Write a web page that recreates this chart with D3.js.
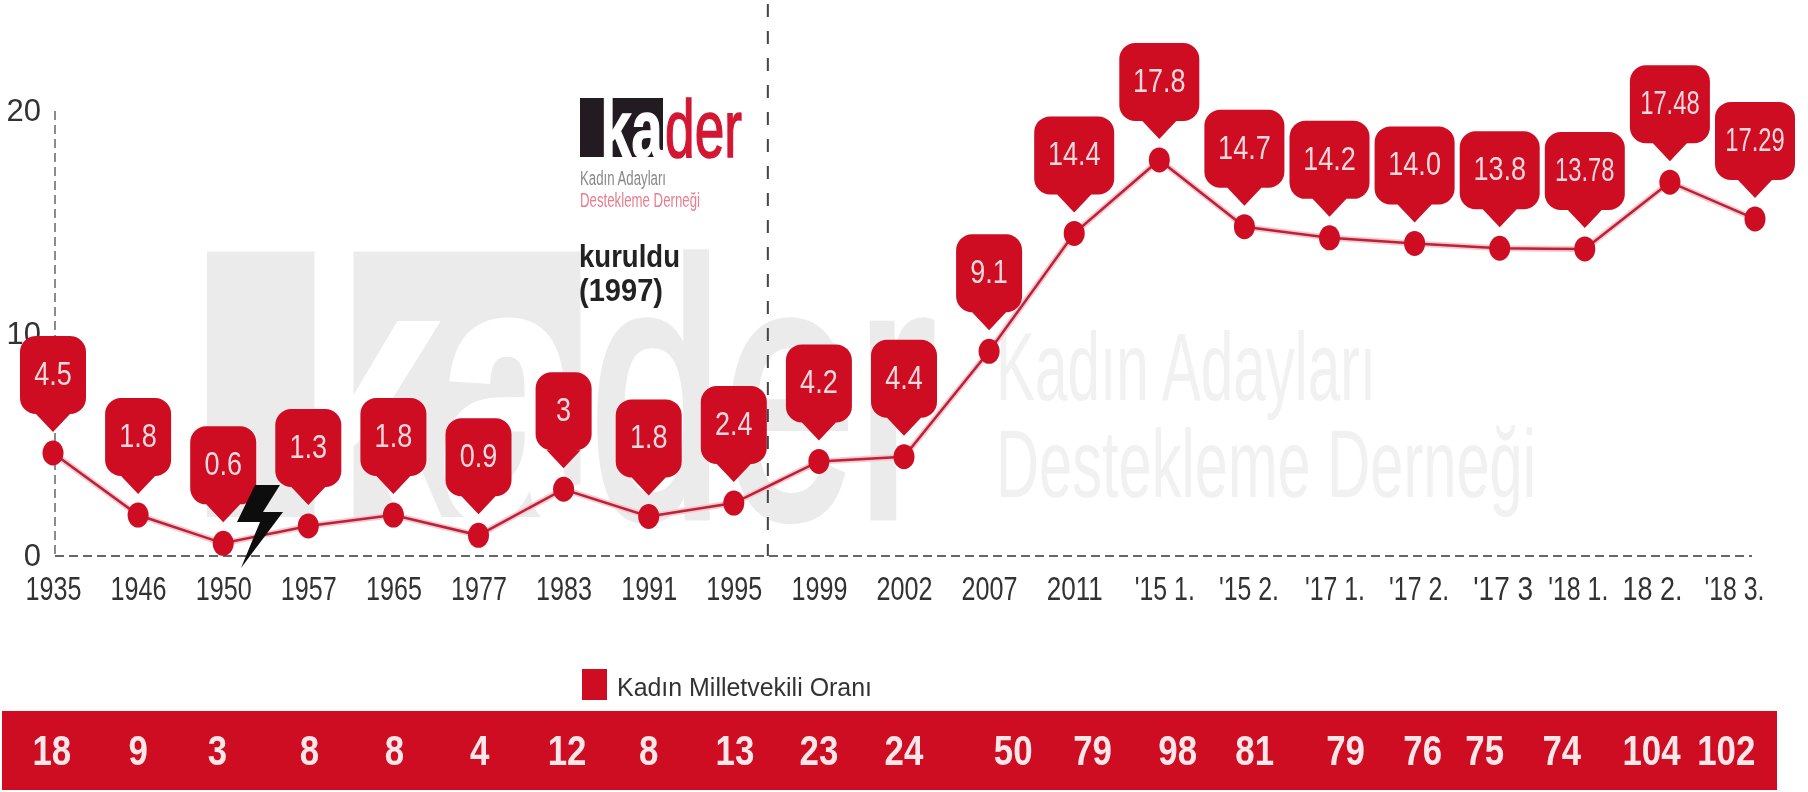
<!DOCTYPE html>
<html lang="tr">
<head>
<meta charset="utf-8">
<script src="https://cdnjs.cloudflare.com/ajax/libs/d3/7.8.5/d3.min.js"></script>
<style>
    html, body { margin: 0; background: #fff; }
    svg { display: block; }
    text { font-family: "Liberation Sans", sans-serif; }
</style>
</head>
<body>
<div id="chart"></div>
<script>
var periods = ["1935", "1946", "1950", "1957", "1965", "1977", "1983", "1991", "1995", "1999", "2002", "2007", "2011",
    "'15 1.", "'15 2.", "'17 1.", "'17 2.", "'17 3", "'18 1.", "18 2.", "'18 3."];
// printed percentages
var shareLabels = ["4.5", "1.8", "0.6", "1.3", "1.8", "0.9", "3", "1.8", "2.4", "4.2", "4.4", "9.1", "14.4",
    "17.8", "14.7", "14.2", "14.0", "13.8", "13.78", "17.48", "17.29"];
// heights as plotted (the last two sit lower than their printed labels)
var plotted = [4.63, 1.84, 0.57, 1.35, 1.84, 0.93, 3.0, 1.78, 2.38, 4.25, 4.46, 9.2, 14.5,
    17.8, 14.8, 14.3, 14.05, 13.83, 13.8, 16.8, 15.15];
var seats = [18, 9, 3, 8, 8, 4, 12, 8, 13, 23, 24, 50, 79, 98, 81, 79, 76, 75, 74, 104, 102];
var yTicks = [0, 10, 20];

// the hand-placed labels in the original do not sit on the points
var tickNudge = [0, 0, 0, 0, 0, 0, 0, 0, 0, 0, 0, 0, 0, 5, 4, 5, 4, 3, -7, -18, -21];
var seatNudge = [-1, 0, -5, 1, 1, 1, 3, 0, 1, 0, 0, 21, 16, 16, 9, 14, 7, -13, -20, -16, -25];

var width = 1808;
var height = 792;
var red = "#ce0a24";

var svg = d3.select("#chart").append("svg")
    .attr("width", width)
    .attr("height", height);

// the reference is a soft upscaled image
svg.append("defs").append("filter")
    .attr("id", "soft")
    .append("feGaussianBlur")
    .attr("stdDeviation", 0.6);

var root = svg.append("g").attr("filter", "url(#soft)");

var x = d3.scalePoint().domain(periods).range([53, 1755]);
var y = d3.scaleLinear().domain([0, 20]).range([556, 111]);

// kader logo: block with "ka" knocked out, then "der"
function logo(g, left, baseline, k, block, der) {
    var h = 59 * k;
    g.append("rect")
        .attr("x", left).attr("y", baseline - h)
        .attr("width", 83 * k).attr("height", h)
        .attr("fill", block);
    g.append("text")
        .attr("x", left + 20.5 * k).attr("y", baseline)
        .attr("textLength", 62 * k)
        .attr("lengthAdjust", "spacingAndGlyphs")
        .attr("font-size", 81 * k)
        .attr("font-weight", "bold")
        .attr("fill", "#fff")
        .attr("stroke", "#fff")
        .attr("stroke-width", 1.5 * k)
        .text("ka");
    g.append("text")
        .attr("x", left + 85 * k).attr("y", baseline)
        .attr("textLength", 77 * k)
        .attr("lengthAdjust", "spacingAndGlyphs")
        .attr("font-size", 81 * k)
        .attr("fill", der)
        .attr("stroke", der)
        .attr("stroke-width", 1.6 * k)
        .text("der");
}

function stretched(g, text, left, baseline, w, size, fill) {
    return g.append("text")
        .attr("x", left).attr("y", baseline)
        .attr("textLength", w)
        .attr("lengthAdjust", "spacingAndGlyphs")
        .attr("font-size", size)
        .attr("fill", fill)
        .text(text);
}

// watermark
var mark = root.append("g");
logo(mark, 207, 517, 4.5, "#ebebeb", "#ebebeb");
stretched(mark, "Kadın Adayları", 996, 400, 380, 97, "#f1f1f1");
stretched(mark, "Destekleme Derneği", 996, 497, 540, 97, "#f1f1f1");

// baseline and vertical axis, dashed
root.append("line")
    .attr("x1", 55).attr("x2", 1752)
    .attr("y1", y(0)).attr("y2", y(0))
    .attr("stroke", "#666").attr("stroke-width", 2)
    .attr("stroke-dasharray", "9,5");
root.append("line")
    .attr("x1", 55).attr("x2", 55)
    .attr("y1", y(20)).attr("y2", y(0))
    .attr("stroke", "#666").attr("stroke-width", 1.5)
    .attr("stroke-dasharray", "9,5");

// 1997 marker between 1995 and 1999
var foundedX = x("1995") + 0.4 * x.step();
root.append("line")
    .attr("x1", foundedX).attr("x2", foundedX)
    .attr("y1", 4).attr("y2", y(0))
    .attr("stroke", "#444").attr("stroke-width", 2)
    .attr("stroke-dasharray", "13,14");

// axes
var xAxis = root.append("g")
    .attr("transform", "translate(0," + (y(0) + 18) + ")")
    .call(d3.axisBottom(x).tickSize(0).tickPadding(3));
xAxis.select(".domain").remove();
xAxis.selectAll("text")
    .attr("font-size", 33)
    .attr("font-family", '"Liberation Sans"')
    .attr("fill", "#333")
    .attr("dx", function(d, i) { return tickNudge[i]; })
    .attr("textLength", function(d) { return d.length > 4 ? 60 : 56; })
    .attr("lengthAdjust", "spacingAndGlyphs");

var yAxis = root.append("g")
    .attr("transform", "translate(44,0)")
    .call(d3.axisLeft(y).tickValues(yTicks).tickSize(0).tickPadding(3).tickFormat(d3.format("d")));
yAxis.select(".domain").remove();
yAxis.selectAll("text")
    .attr("font-size", 31)
    .attr("font-family", '"Liberation Sans"')
    .attr("fill", "#333");

// logo and founding note
var note = root.append("g");
logo(note, 580, 157, 1, "#231f20", "#d31533");
stretched(note, "Kadın Adayları", 580, 185, 86, 20, "#888");
stretched(note, "Destekleme Derneği", 580, 207, 120, 20, "#ea7c8c");
note.append("text").attr("x", 579).attr("y", 267)
    .attr("font-size", 32).attr("font-weight", "bold").attr("fill", "#222")
    .attr("textLength", 101).attr("lengthAdjust", "spacingAndGlyphs")
    .text("kuruldu");
note.append("text").attr("x", 579).attr("y", 301)
    .attr("font-size", 32).attr("font-weight", "bold").attr("fill", "#222")
    .attr("textLength", 84).attr("lengthAdjust", "spacingAndGlyphs")
    .text("(1997)");

// line
var line = d3.line()
    .x(function(d, i) { return x(periods[i]); })
    .y(function(d) { return y(d); });
root.append("path")
    .attr("d", line(plotted))
    .attr("fill", "none")
    .attr("stroke", "#f6c9cf").attr("stroke-width", 6);
root.append("path")
    .attr("d", line(plotted))
    .attr("fill", "none")
    .attr("stroke", "#bb2238").attr("stroke-width", 2.5);

// callouts
function bubblePath(w) {
    var p = d3.path();
    var r = 16, h = 78, tip = 18, base = 17;
    // origin is the tip of the pointer
    var top = -tip - h, bottom = -tip, l = -w / 2, rgt = w / 2;
    p.moveTo(0, 0);
    p.lineTo(-base, bottom);
    p.lineTo(l + r, bottom);
    p.arcTo(l, bottom, l, bottom - r, r);
    p.lineTo(l, top + r);
    p.arcTo(l, top, l + r, top, r);
    p.lineTo(rgt - r, top);
    p.arcTo(rgt, top, rgt, top + r, r);
    p.lineTo(rgt, bottom - r);
    p.arcTo(rgt, bottom, rgt - r, bottom, r);
    p.lineTo(base, bottom);
    p.closePath();
    return p.toString();
}

var bubbles = root.selectAll(".bubble")
    .data(shareLabels)
    .enter().append("g")
    .attr("class", "bubble")
    .attr("transform", function(d, i) {
        return "translate(" + x(periods[i]) + "," + (y(plotted[i]) - 21) + ")";
    });
bubbles.append("path")
    .attr("d", function(d) {
        return bubblePath(d.length > 3 ? 80 : (d.length > 1 ? 66 : 56));
    })
    .attr("fill", red);
bubbles.append("text")
    .attr("text-anchor", "middle")
    .attr("transform", function(d) {
        return "translate(0,-47) scale(" + (d.length > 4 ? 0.72 : 0.82) + ",1)";
    })
    .attr("font-size", 33)
    .attr("fill", "#f8d9dc")
    .text(function(d) { return d; });

root.selectAll(".dot")
    .data(plotted)
    .enter().append("ellipse")
    .attr("class", "dot")
    .attr("cx", function(d, i) { return x(periods[i]); })
    .attr("cy", function(d) { return y(d); })
    .attr("rx", 10.5).attr("ry", 12.5)
    .attr("fill", red);

// lightning bolt
root.append("polygon")
    .attr("points", "255,485 280,485 263,512 283,512 241,568 260,522 237,522")
    .attr("fill", "#111");

// legend
root.append("rect")
    .attr("x", 582).attr("y", 669)
    .attr("width", 25).attr("height", 31)
    .attr("fill", red);
stretched(root, "Kadın Milletvekili Oranı", 617, 696, 255, 26, "#333");

// seats band
root.append("rect")
    .attr("x", 2).attr("y", 711)
    .attr("width", 1775).attr("height", 79)
    .attr("fill", red);
root.selectAll(".seat")
    .data(seats)
    .enter().append("text")
    .attr("class", "seat")
    .attr("transform", function(d, i) {
        return "translate(" + (x(periods[i]) + seatNudge[i] * 1.15) + ",765) scale(0.83,1)";
    })
    .attr("text-anchor", "middle")
    .attr("font-family", "Roboto")
    .attr("font-size", 42)
    .attr("font-weight", 700)
    .attr("fill", "#fbe6e8")
    .text(function(d) { return d; });
</script>
</body>
</html>
